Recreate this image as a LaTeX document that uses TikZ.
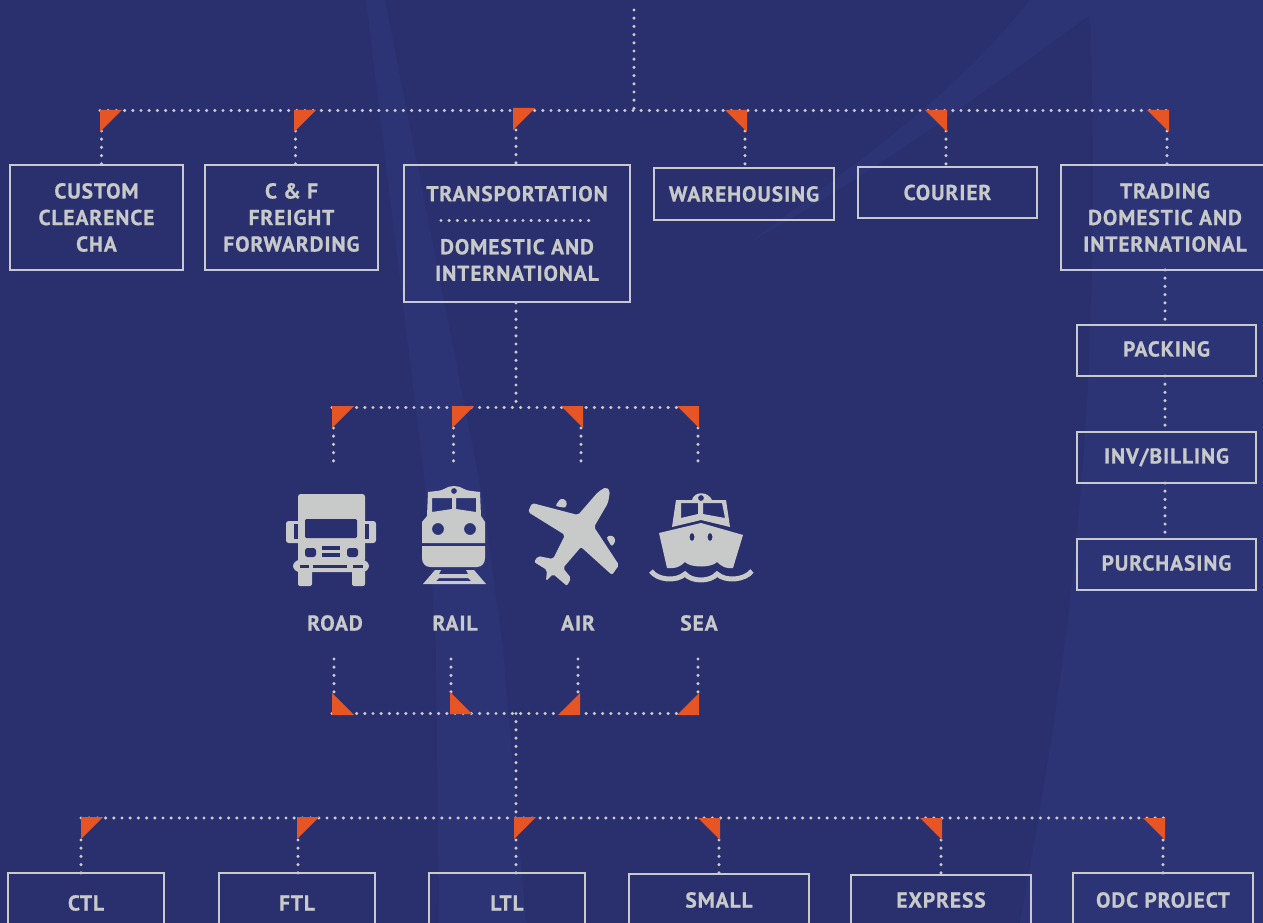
\documentclass[tikz,border=0pt]{standalone}
\usepackage{fontspec}
\setmainfont[LetterSpace=4.2,BoldFeatures={FakeBold=0.7}]{PT Sans}
\usepackage{tikz}
\usetikzlibrary {positioning}
\definecolor{bgbase}{HTML}{2A2F6E}
\definecolor{bglight}{HTML}{2D3475}
\definecolor{linecol}{HTML}{C9CACD}
\definecolor{iconcol}{HTML}{C8CACA}
\definecolor{flagcol}{HTML}{E85525}
\tikzset{
        base/.style={draw=linecol, line width=1.5pt, text=iconcol, align=center,
                     inner sep=0pt, font=\fontsize{16.1pt}{19.9pt}\selectfont\bfseries},
        boxtall/.style={base, minimum width=129.75pt, minimum height=78.5pt},
        boxflat/.style={base, minimum width=134.5pt, minimum height=38.5pt},
        boxlow/.style={base, minimum width=117pt, minimum height=45pt},
        boxsmall/.style={base, minimum width=134.5pt, minimum height=38.25pt},
        boxside/.style={boxsmall, text depth=2.5pt},
        label/.style={text=iconcol, inner sep=0pt,
                      font=\fontsize{16.1pt}{19.9pt}\selectfont\bfseries},
        dotline/.style={draw=linecol, line width=2.6pt, line cap=round,
                        dash pattern=on 0pt off 6.15pt},
        icon/.style={fill=iconcol, even odd rule},
        flagtl/.pic={\fill[flagcol] (0,0) -- (22,0) -- (0,22) -- cycle;},
        flagtr/.pic={\fill[flagcol] (0,0) -- (-22,0) -- (0,22) -- cycle;},
        flagbl/.pic={\fill[flagcol] (0,0) -- (22,0) -- (0,-22) -- cycle;},
        flagbr/.pic={\fill[flagcol] (0,0) -- (-22,0) -- (0,-22) -- cycle;},
}
\begin{document}
\begin{tikzpicture}[x=0.75pt, y=-0.75pt, node distance=40.5pt]
        \useasboundingbox (0,0) rectangle (1263,923);
        \fill[bgbase] (0,0) rectangle (1263,923);
        % background shapes
        \fill[bglight] (366,0) -- (385,0) -- (483,500) -- (503,650) -- (526,923)
                -- (439,923) -- (436,650) -- (427,500) -- cycle;
        \fill[bglight] (1030,0) -- (1263,0) -- (1263,923) -- (1020,923)
                .. controls (1060,700) and (1105,450) .. (1090,15)
                .. controls (1000,80) and (880,170) .. (750,242)
                .. controls (860,160) and (950,100) .. (1030,0) -- cycle;

        % first row
        \node[boxtall] (custom) at (96.5,217.5) {CUSTOM\\CLEARENCE\\CHA};
        \node[boxtall] (freight) at (291.5,217.5) {C \& F\\FREIGHT\\FORWARDING};
        \node[base, minimum width=169.5pt, minimum height=102.75pt] (transport)
              at (517,233.5) {TRANSPORTATION\\ \mbox{}\\DOMESTIC AND\\INTERNATIONAL};
        \node[boxflat] (ware) at (744,194) {WAREHOUSING};
        \node[boxflat] (courier) at (947.5,192.5) {COURIER};
        \node[base, minimum width=156pt, minimum height=78.75pt] (trading)
              at (1165,217.5) {TRADING\\DOMESTIC AND\\INTERNATIONAL};

        % trading column
        \node[boxside] (packing) at (1166.5,350.5) {PACKING};
        \node[boxside, below = of packing] (inv) {INV/BILLING};
        \node[boxside, below = of inv] (purchasing) {PURCHASING};

        % last row, cut by the page
        \node[boxlow] (ctl) at (86,903) {CTL};
        \node[boxlow] (ftl) at (297,903) {FTL};
        \node[boxlow] (ltl) at (507,903) {LTL};
        \node[boxsmall, minimum height=39pt] (small) at (719,900) {SMALL};
        \node[boxsmall, minimum height=37.5pt] (express) at (941,900) {EXPRESS};
        \node[boxsmall, minimum height=40.5pt] (odc) at (1163,900) {ODC PROJECT};

        % modes
        \node[label] (road) at (335,623) {ROAD};
        \node[label] (rail) at (455,623) {RAIL};
        \node[label] (air) at (578,623) {AIR};
        \node[label] (sea) at (699,623) {SEA};

        % truck
        \fill[icon, rounded corners=2pt] (298,494) rectangle (365,562);
        \fill[icon, rounded corners=2pt] (286,521) rectangle (376,543);
        \fill[icon, rounded corners=5pt] (293,560) rectangle (369,572);
        \fill[icon, rounded corners=1.5pt] (298,570) rectangle (312,586);
        \fill[icon, rounded corners=1.5pt] (352,570) rectangle (365,586);
        \fill[bgbase, rounded corners=1pt] (305,519) rectangle (357,538);
        \fill[bgbase] (294,524) rectangle (298,539);
        \fill[bgbase] (365,524) rectangle (369,539);
        \fill[bgbase, rounded corners=2pt] (305,548) rectangle (316,557);
        \fill[bgbase, rounded corners=2pt] (347,548) rectangle (358,557);
        \fill[bgbase] (322,546) rectangle (340,550);
        \fill[bgbase] (322,553) rectangle (340,557);
        \fill[bgbase] (300,565) rectangle (309,568);
        \fill[bgbase] (313,565) rectangle (347,568);
        \fill[bgbase] (353,565) rectangle (363,568);

        % train
        \fill[icon] (428,492) .. controls (436,491) and (441,491) .. (444,489)
                .. controls (450,485) and (458,485) .. (464,489)
                .. controls (467,491) and (473,491) .. (480,492)
                -- (481,516) -- (485,522) -- (485,543) -- (422,543) -- (422,522)
                -- (427,516) -- cycle
                (454,491) circle[radius=3]
                (432,498) -- (452,498) -- (452,509) -- (432,512) -- cycle
                (456,498) -- (476,498) -- (476,512) -- (456,509) -- cycle
                (438,529) circle[radius=6]
                (470,529) circle[radius=6];
        \fill[icon] (422,546) -- (485,546) -- (485,558)
                .. controls (485,563) and (482,567) .. (477,567) -- (430,567)
                .. controls (425,567) and (422,563) .. (422,558) -- cycle;
        \fill[icon] (423,584) -- (435,570) -- (441,570) -- (439,574) -- (468,574)
                -- (466,570) -- (474,570) -- (486,584) -- cycle
                (439,578) -- (468,578) -- (471,581) -- (436,581) -- cycle;

        % plane
        \fill[icon, rounded corners=1.5pt] (610,491) -- (608,503) -- (594,527)
                -- (619,565) -- (612,575) -- (581,547) -- (563,568) -- (571,578)
                -- (567,586) -- (553,574) -- (546,581) -- (547,570) -- (534,562)
                -- (538,556) -- (553,559) -- (565,535) -- (528,512) -- (532,503)
                -- (578,515) -- (598,492) -- (606,487) -- cycle;
        \fill[icon, rounded corners=2pt] (555,506) -- (561,498) -- (567,501)
                -- (566,508) -- cycle;
        \fill[icon, rounded corners=2pt] (606,537) -- (612,535) -- (616,540)
                -- (612,547) -- cycle;

        % ship
        \fill[icon] (676,500) -- (692,500) .. controls (694,491) and (708,491) .. (712,500)
                -- (726,500) -- (730,527) -- (701,520) -- (672,527) -- cycle
                (701,498) circle[radius=3]
                (681,503) -- (698,503) -- (698,514) -- (681,518) -- cycle
                (703,503) -- (722,503) -- (725,518) -- (703,514) -- cycle;
        \fill[icon] (659,533) -- (701,523) -- (743,535) -- (733,568)
                .. controls (727,569) and (722,567) .. (717,562)
                .. controls (712,568) and (690,568) .. (685,562)
                .. controls (680,567) and (675,569) .. (667,568) -- cycle
                (692,537) ellipse[x radius=2.5, y radius=4]
                (710,537) ellipse[x radius=2.5, y radius=4];
        \draw[iconcol, line width=3.7pt] (651,571) .. controls (657,580) and (676,582) .. (685,574)
                .. controls (692,582) and (710,582) .. (717,574)
                .. controls (726,582) and (745,580) .. (752,571);

        % junctions of the first bus
        \coordinate (top) at (634,10);
        \coordinate (busa) at (634,110.5);
        \coordinate (fa) at (100,110);
        \coordinate (fb) at (294,110);
        \coordinate (fc) at (513,108);
        \coordinate (fd) at (747,110);
        \coordinate (fe) at (947,110);
        \coordinate (ff) at (1169,110);

        \draw[dotline] (top) -- (busa);
        \draw[dotline] (fa |- busa) -- (ff |- busa);
        \draw[dotline] (101.5,131) -- (101.5,165);
        \draw[dotline] (295.5,131) -- (295.5,165);
        \draw[dotline] (516,130) -- (516,165);
        \draw[dotline] (745,131) -- (745,168);
        \draw[dotline] (946,131) -- (946,167);
        \draw[dotline] (1167,131) -- (1167,165);
        \pic at (fa) {flagtl};
        \pic at (fb) {flagtl};
        \pic at (fc) {flagtl};
        \pic at (fd) {flagtr};
        \pic at (fe) {flagtr};
        \pic at (ff) {flagtr};

        % inside transportation
        \coordinate (tl) at (441,220.5);
        \coordinate (tr) at (592,220.5);
        \draw[dotline] (tl) -- (tr);

        % trading column
        \draw[dotline] (1165,270) -- (packing.north -| 1165,0);
        \draw[dotline] (1165,376) -- (inv.north -| 1165,0);
        \draw[dotline] (1165,483) -- (purchasing.north -| 1165,0);

        % second bus
        \coordinate (busb) at (516,407.5);
        \coordinate (ga) at (332,406);
        \coordinate (gb) at (452,406);
        \coordinate (gc) at (583,406);
        \coordinate (gd) at (699,406);
        \draw[dotline] (busb |- transport.south) -- (busb);
        \draw[dotline] (ga |- busb) -- (gd |- busb);
        \draw[dotline] (333.5,428) -- (333.5,461);
        \draw[dotline] (453.5,428) -- (453.5,461);
        \draw[dotline] (581,428) -- (581,461);
        \draw[dotline] (698,428) -- (698,461);
        \pic at (ga) {flagtl};
        \pic at (gb) {flagtl};
        \pic at (gc) {flagtr};
        \pic at (gd) {flagtr};

        % third bus
        \coordinate (busc) at (516,713.5);
        \coordinate (ha) at (332,715);
        \coordinate (hb) at (450,714);
        \coordinate (hc) at (580,715);
        \coordinate (hd) at (699,715);
        \draw[dotline] (334,659) -- (334,693);
        \draw[dotline] (451,659) -- (451,692);
        \draw[dotline] (578,659) -- (578,693);
        \draw[dotline] (698,659) -- (698,693);
        \draw[dotline] (ha |- busc) -- (hd |- busc);
        \pic at (ha) {flagbl};
        \pic at (hb) {flagbl};
        \pic at (hc) {flagbr};
        \pic at (hd) {flagbr};

        % last bus
        \coordinate (busd) at (516,818);
        \coordinate (ka) at (81,817);
        \coordinate (kb) at (297,817);
        \coordinate (kc) at (514,817);
        \coordinate (kd) at (720,818);
        \coordinate (ke) at (942,818);
        \coordinate (kf) at (1165,818);
        \draw[dotline] (busc) -- (busd);
        \draw[dotline] (ka |- busd) -- (kf |- busd);
        \draw[dotline] (81,840) -- (81,873);
        \draw[dotline] (298,840) -- (298,873);
        \draw[dotline] (516,840) -- (516,873);
        \draw[dotline] (719,840) -- (719,874);
        \draw[dotline] (941,840) -- (941,875);
        \draw[dotline] (1163,840) -- (1163,873);
        \pic at (ka) {flagtl};
        \pic at (kb) {flagtl};
        \pic at (kc) {flagtl};
        \pic at (kd) {flagtr};
        \pic at (ke) {flagtr};
        \pic at (kf) {flagtr};
\end{tikzpicture}
\end{document}
